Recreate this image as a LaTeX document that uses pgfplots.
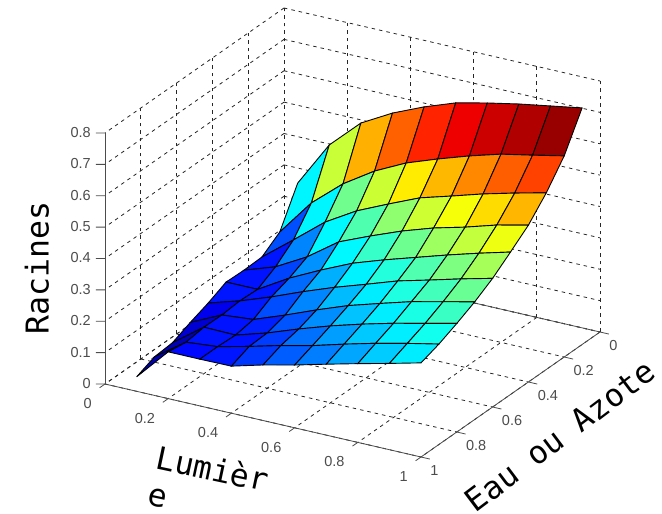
\documentclass[border=0pt]{standalone}
\usepackage{pgfplots}
\pgfplotsset{compat=1.18}
\usepackage{fontspec}
\setmainfont{Liberation Sans}
\newfontfamily\monof{DejaVu Sans Mono}
\definecolor{axc}{gray}{0.3}
\begin{document}
\begin{tikzpicture}[x=1pt,y=1pt]
\path[use as bounding box] (0,0) rectangle (662,514);
\begin{axis}[
  at={(284pt,255pt)}, anchor=origin,
  x={(316pt,-73pt)}, y={(179pt,125pt)}, z={(0pt,313.75pt)},
  y dir=reverse,
  xmin=0,xmax=1,ymin=0,ymax=1,zmin=0,zmax=0.8,
  clip=false,
  grid=major,
  grid style={black!85,line width=0.8pt,dash pattern=on 3.5pt off 4pt},
  axis line style={draw=none},
  xtick={0,0.2,0.4,0.6,0.8,1},
  ytick={0,0.2,0.4,0.6,0.8,1},
  ztick={0,0.1,0.2,0.3,0.4,0.5,0.6,0.7,0.8},
  tick style={draw=none},
  tick pos=left,
  tick align=outside,
  major tick length=7pt,
  tick label style={font=\fontsize{14.5}{15}\selectfont,text=black!70,/pgf/number format/assume math mode=true},
  xticklabel style={anchor=east,xshift=-4pt,yshift=-15.5pt},
  yticklabel style={anchor=west,xshift=-1pt,yshift=-12pt},
  zticklabel style={anchor=east,xshift=-5pt,yshift=4.5pt},
  colormap={mjet}{rgb255(0pt)=(0,0,143); rgb255(1pt)=(0,0,255); rgb255(3pt)=(0,255,255); rgb255(5pt)=(255,255,0); rgb255(7pt)=(255,0,0); rgb255(8pt)=(128,0,0)},
  point meta min=0.046, point meta max=0.754,
]
\addplot3[axc,line width=0.8pt,no marks] coordinates {(0,0,0) (1,0,0)};
\addplot3[axc,line width=0.8pt,no marks] coordinates {(0,1,0) (1,1,0) (1,0,0)};
\addplot3[axc,line width=0.8pt,no marks] coordinates {(0,1,0) (0,1,0.8)};
\addplot3[axc,line width=0.8pt,no marks,empty line=jump] coordinates {
(0,1,0) (-0.0214,1.0125,0)

(0,1,0.1) (-0.0214,1.0125,0.1)

(0,1,0.2) (-0.0214,1.0125,0.2)

(0,1,0.3) (-0.0214,1.0125,0.3)

(0,1,0.4) (-0.0214,1.0125,0.4)

(0,1,0.5) (-0.0214,1.0125,0.5)

(0,1,0.6) (-0.0214,1.0125,0.6)

(0,1,0.7) (-0.0214,1.0125,0.7)

(0,1,0.8) (-0.0214,1.0125,0.8)
};
\addplot3[axc,line width=0.8pt,no marks,empty line=jump] coordinates {
(0,1,0) (0,1.03,0)

(0.2,1,0) (0.2,1.03,0)

(0.4,1,0) (0.4,1.03,0)

(0.6,1,0) (0.6,1.03,0)

(0.8,1,0) (0.8,1.03,0)

(1,1,0) (1,1.03,0)
};
\addplot3[axc,line width=0.8pt,no marks,empty line=jump] coordinates {
(1,0,0) (1.028,0,0)

(1,0.2,0) (1.028,0.2,0)

(1,0.4,0) (1.028,0.4,0)

(1,0.6,0) (1.028,0.6,0)

(1,0.8,0) (1.028,0.8,0)

(1,1,0) (1.028,1,0)
};
\addplot3[surf,shader=flat corner,draw=black,line width=0.9pt,z buffer=default,point meta=z] coordinates {
(0.1,0.1,0.305) (0.2,0.1,0.45) (0.3,0.1,0.543) (0.4,0.1,0.598) (0.5,0.1,0.641) (0.6,0.1,0.677) (0.7,0.1,0.70) (0.8,0.1,0.72) (0.9,0.1,0.737) (1,0.1,0.754)

(0.1,0.2,0.189) (0.2,0.2,0.305) (0.3,0.2,0.389) (0.4,0.2,0.453) (0.5,0.2,0.502) (0.6,0.2,0.538) (0.7,0.2,0.571) (0.8,0.2,0.60) (0.9,0.2,0.62) (1,0.2,0.641)

(0.1,0.3,0.149) (0.2,0.3,0.227) (0.3,0.3,0.307) (0.4,0.3,0.366) (0.5,0.3,0.411) (0.6,0.3,0.454) (0.7,0.3,0.483) (0.8,0.3,0.513) (0.9,0.3,0.539) (1,0.3,0.563)

(0.1,0.4,0.147) (0.2,0.4,0.181) (0.3,0.4,0.236) (0.4,0.4,0.307) (0.5,0.4,0.349) (0.6,0.4,0.388) (0.7,0.4,0.421) (0.8,0.4,0.447) (0.9,0.4,0.477) (1,0.4,0.50)

(0.1,0.5,0.149) (0.2,0.5,0.149) (0.3,0.5,0.208) (0.4,0.5,0.257) (0.5,0.5,0.302) (0.6,0.5,0.336) (0.7,0.5,0.367) (0.8,0.5,0.398) (0.9,0.5,0.427) (1,0.5,0.454)

(0.1,0.6,0.122) (0.2,0.6,0.152) (0.3,0.6,0.188) (0.4,0.6,0.228) (0.5,0.6,0.265) (0.6,0.6,0.298) (0.7,0.6,0.332) (0.8,0.6,0.358) (0.9,0.6,0.385) (1,0.6,0.41)

(0.1,0.7,0.10) (0.2,0.7,0.147) (0.3,0.7,0.156) (0.4,0.7,0.193) (0.5,0.7,0.233) (0.6,0.7,0.27) (0.7,0.7,0.30) (0.8,0.7,0.329) (0.9,0.7,0.352) (1,0.7,0.375)

(0.1,0.8,0.075) (0.2,0.8,0.148) (0.3,0.8,0.146) (0.4,0.8,0.176) (0.5,0.8,0.212) (0.6,0.8,0.245) (0.7,0.8,0.274) (0.8,0.8,0.30) (0.9,0.8,0.323) (1,0.8,0.346)

(0.1,0.9,0.07) (0.2,0.9,0.14) (0.3,0.9,0.149) (0.4,0.9,0.173) (0.5,0.9,0.199) (0.6,0.9,0.222) (0.7,0.9,0.25) (0.8,0.9,0.276) (0.9,0.9,0.299) (1,0.9,0.32)

(0.1,1,0.046) (0.2,1,0.149) (0.3,1,0.149) (0.4,1,0.15) (0.5,1,0.177) (0.6,1,0.2) (0.7,1,0.226) (0.8,1,0.251) (0.9,1,0.275) (1,1,0.30)
};
\end{axis}
\node[font=\monof\fontsize{31.5}{32}\selectfont,rotate=90,anchor=center,inner sep=0pt] at (37,246) {Racines};
\node[font=\monof\fontsize{31.5}{32}\selectfont,rotate=-12,anchor=center,inner sep=0pt] at (213,46) {Lumièr};
\node[font=\monof\fontsize{31.5}{32}\selectfont,rotate=-12,anchor=center,inner sep=0pt] at (158,16) {e};
\node[font=\monof\fontsize{31.5}{32}\selectfont,rotate=37,anchor=center,inner sep=0pt] at (560,78) {Eau ou Azote};
\end{tikzpicture}
\end{document}
